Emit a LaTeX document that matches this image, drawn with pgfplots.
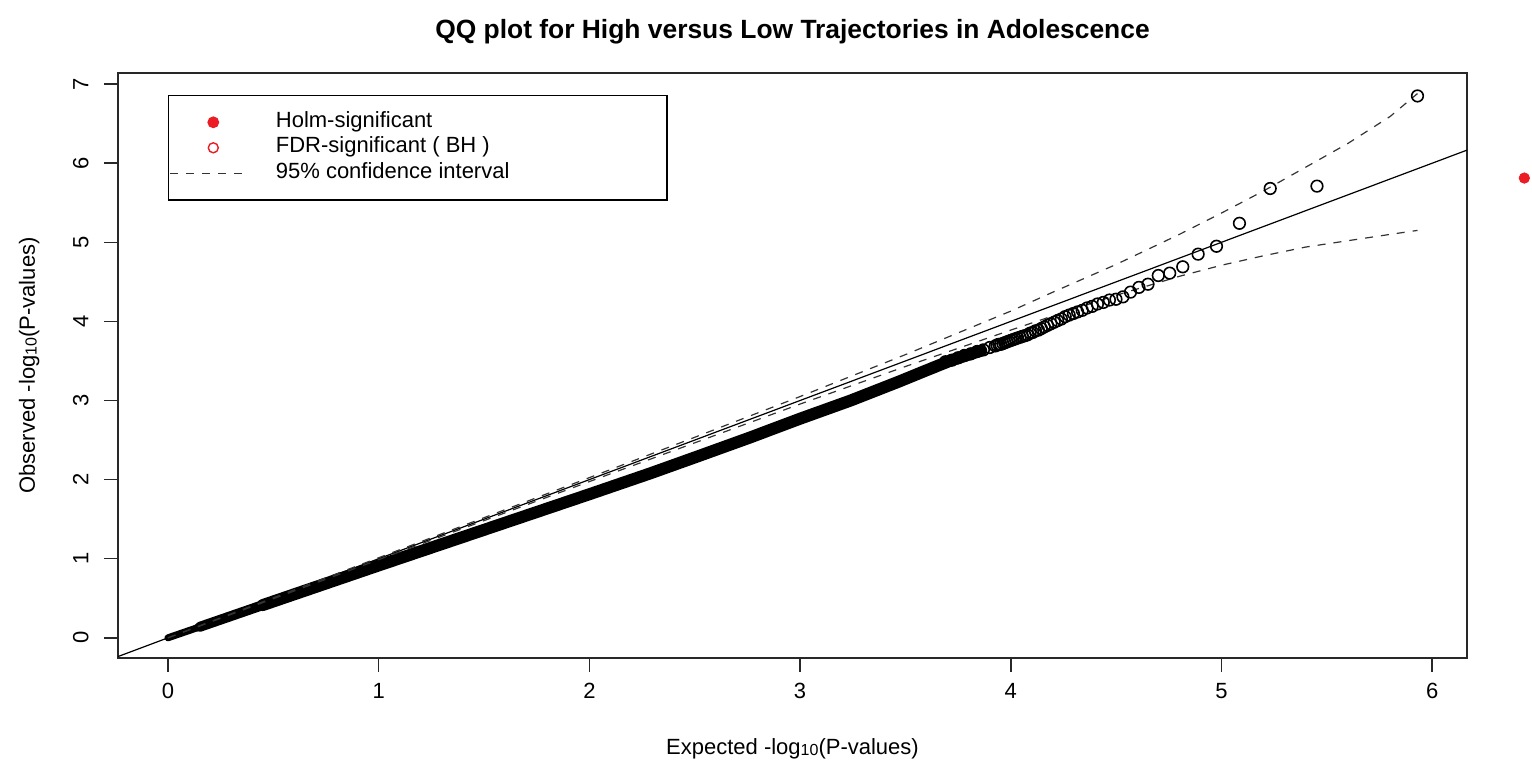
\documentclass[border=0pt]{standalone}
\usepackage{fontspec}
\setmainfont{Liberation Sans}
\usepackage{pgfplots}
\pgfplotsset{compat=1.18}
\definecolor{hred}{RGB}{235,28,36}
\definecolor{boxc}{RGB}{40,40,40}
\pgfplotsset{
  mylegmark/.style={legend image code/.code={\draw[mark repeat=2,mark phase=2,##1] plot coordinates {(0bp,0bp) (22bp,0bp) (36.5bp,0bp)};}},
  mylegline/.style={legend image code/.code={\draw[##1] (0.5bp,0bp) -- (36.5bp,0bp);}},
}
\begin{document}
\begin{tikzpicture}
\useasboundingbox (-59bp,-55.5bp) rectangle (707bp,329bp);
\begin{axis}[
  scale only axis, width=674.5bp, height=292.5bp,
  xmin=-0.237, xmax=6.165, ymin=-0.255, ymax=7.14,
  clip=false,
  axis line style={boxc, line width=0.75bp},
  xtick={0,1,2,3,4,5,6}, ytick={0,1,2,3,4,5,6,7},
  xtick pos=bottom, ytick pos=left,
  tick align=outside, major tick length=7bp,
  tick style={boxc, line width=0.75bp},
  /pgf/number format/assume math mode=true,
  tick label style={font=\fontsize{11bp}{13bp}\selectfont, text=black},
  xticklabel style={anchor=base, yshift=-13bp},
  yticklabel style={anchor=base, xshift=-7.75bp, rotate=90},
  every axis title/.style={at={(axis description cs:0.5,1)}, anchor=base, yshift=17.25bp, font=\bfseries\fontsize{13.2bp}{15bp}\selectfont},
  title={QQ plot for High versus Low Trajectories in Adolescence},
  every axis x label/.style={at={(axis description cs:0.5,0)}, anchor=base, yshift=-48bp, font=\fontsize{11bp}{13bp}\selectfont},
  xlabel={Expected -log\raisebox{-0.8bp}{\fontsize{8bp}{8bp}\selectfont 10}(P-values)},
  every axis y label/.style={at={(axis description cs:0,0.5)}, anchor=base, xshift=-41.5bp, rotate=90, font=\fontsize{11bp}{13bp}\selectfont},
  ylabel={Observed -log\raisebox{-0.8bp}{\fontsize{8bp}{8bp}\selectfont 10}(P-values)},
  legend style={at={(axis description cs:0.03706,0.96239)}, anchor=north west, draw=black, line width=0.7bp,
    inner xsep=0.5bp, inner ysep=7.8bp, row sep=1.75bp, column sep=16.5bp,
    font=\fontsize{11bp}{13bp}\selectfont,
    nodes={inner sep=0pt, text height=8bp, text depth=3bp}},
  legend cell align=left,
]
\addlegendimage{mylegmark, only marks, mark=*, mark size=2.7bp, draw=hred, fill=hred, line width=0.5bp}
\addlegendentry{\makebox[195bp][l]{Holm-significant}}
\addlegendimage{mylegmark, only marks, mark=o, mark size=2.5bp, draw=hred, line width=0.7bp}
\addlegendentry{\makebox[195bp][l]{FDR-significant ( BH )}}
\addlegendimage{mylegline, black!80, line width=0.6bp, dash pattern=on 4bp off 4bp}
\addlegendentry{\makebox[195bp][l]{95\% confidence interval}}

% dense band of observed points (saturated scatter)
\addplot[forget plot, black, line width=3.5bp, line cap=round, line join=round] coordinates {
(0,0) (0.12,0.11) (0.25,0.23)};
\addplot[forget plot, black, line width=5bp, line cap=round, line join=round] coordinates {
(0.15,0.138) (0.4,0.368) (0.6,0.552)};
\addplot[forget plot, black, line width=6bp, line cap=round, line join=round] coordinates {
(0.45,0.414) (1.0,0.915) (1.5,1.365) (2.0,1.815) (2.29,2.08) (2.5,2.28) (2.76,2.53) (3.0,2.77)
(3.24,3.00) (3.47,3.24) (3.58,3.36) (3.71,3.50) (3.80,3.58) (3.86,3.63)};

% individual observed points
\addplot[forget plot, only marks, mark=o, mark size=2.9bp, mark options={black, line width=0.8bp}] coordinates {
(3.69,3.49) (3.72,3.51) (3.75,3.54) (3.78,3.57) (3.81,3.59) (3.84,3.62) (3.87,3.64) (3.90,3.67)
(3.926,3.69) (3.934,3.70) (3.943,3.71) (3.952,3.71) (3.962,3.72) (3.971,3.73) (3.981,3.74) (3.990,3.75)
(4.001,3.76) (4.011,3.77) (4.022,3.78) (4.032,3.79) (4.044,3.80) (4.055,3.81) (4.067,3.82) (4.079,3.83)
(4.091,3.85) (4.104,3.86) (4.117,3.88) (4.131,3.89) (4.145,3.91) (4.159,3.93) (4.174,3.95) (4.190,3.97)
(4.206,3.99) (4.222,4.01) (4.240,4.03) (4.258,4.06) (4.277,4.08) (4.297,4.10) (4.317,4.12) (4.339,4.14)
(4.362,4.17) (4.386,4.19) (4.411,4.22) (4.439,4.24) (4.468,4.27) (4.499,4.28) (4.532,4.31) (4.568,4.37)
(4.608,4.43) (4.651,4.47) (4.700,4.58) (4.754,4.61) (4.816,4.69) (4.889,4.85) (4.976,4.95) (5.085,5.24)
(5.231,5.68) (5.453,5.71) (5.930,6.85)};

% reference line y = x
\addplot[forget plot, black, line width=0.6bp] coordinates {(-0.237,-0.237) (6.165,6.165)};

% 95% confidence interval
\addplot[forget plot, black!80, line width=0.6bp, dash pattern=on 4bp off 4bp] coordinates {
(0,0) (1,1.012) (2,2.025) (2.5,2.535) (3,3.05) (3.5,3.58) (4,4.13) (4.2,4.37) (4.5,4.72) (4.8,5.10)
(5,5.37) (5.2,5.65) (5.4,5.95) (5.6,6.25) (5.8,6.59) (5.93,6.88)};
\addplot[forget plot, black!80, line width=0.6bp, dash pattern=on 4bp off 4bp] coordinates {
(0,0) (1,0.988) (2,1.975) (2.5,2.465) (3,2.955) (3.5,3.43) (4,3.89) (4.2,4.07) (4.5,4.33) (4.8,4.57)
(5,4.71) (5.2,4.83) (5.4,4.94) (5.6,5.02) (5.8,5.10) (5.93,5.15)};

% stray red point outside the plot region
\addplot[forget plot, only marks, mark=*, mark size=2.6bp, mark options={draw=hred, fill=hred}] coordinates {(6.437,5.812)};
\end{axis}
\end{tikzpicture}
\end{document}
